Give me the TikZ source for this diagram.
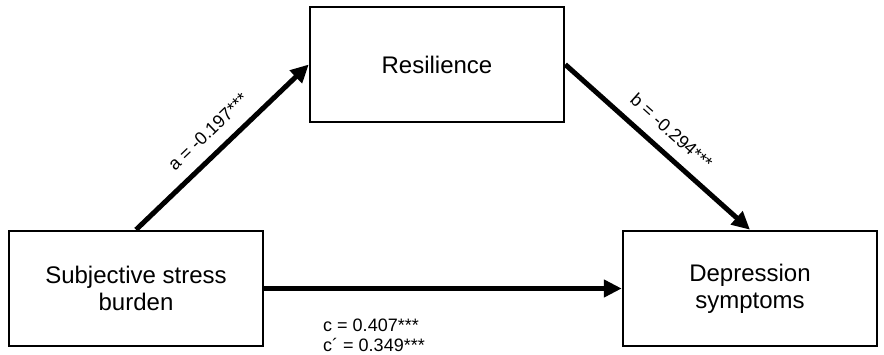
\documentclass[tikz,border=0pt]{standalone}
\usepackage{fontspec}
\setmainfont{Liberation Sans}
\usepackage{tikz}
\usetikzlibrary{arrows.meta,positioning}

\begin{document}
\begin{tikzpicture}[x=1pt,y=1pt,>=Latex,
    var/.style={draw,line width=2.5pt,minimum width=254pt,minimum height=115pt,
                align=center,font=\fontsize{24}{27}\selectfont},
    path/.style={line width=5pt,-{Triangle[length=18pt,width=17pt]}},
    coef/.style={font=\fontsize{18}{20}\selectfont,inner sep=3pt}]

  % -- FRAME ---------------------------------------------------------
  \useasboundingbox (0,0) rectangle (884,354);

  % -- VARIABLES -----------------------------------------------------
  \node[var] (stress) at (136,65.5) {Subjective stress\\burden};
  \node[var] (resil)  at (437,289.5) {Resilience};
  \node[var] (depr)   at (750,65.5) {Depression\\symptoms};

  % -- PATHS ---------------------------------------------------------
  \draw[path] (stress.north) -- (resil.west)
    node[coef,midway,above=9pt,sloped] (pa) {a = -0.197***};
  \draw[path] (resil.east) -- (depr.north)
    node[coef,midway,above=9pt,sloped] (pb) {b = -0.294***};
  \draw[path] (stress.east) -- (depr.west)
    node[coef,pos=0.158,anchor=north west,inner sep=0pt,yshift=-27.5pt,align=left] (pc)
      {c = 0.407***\\c´ = 0.349***};

\end{tikzpicture}
\end{document}
